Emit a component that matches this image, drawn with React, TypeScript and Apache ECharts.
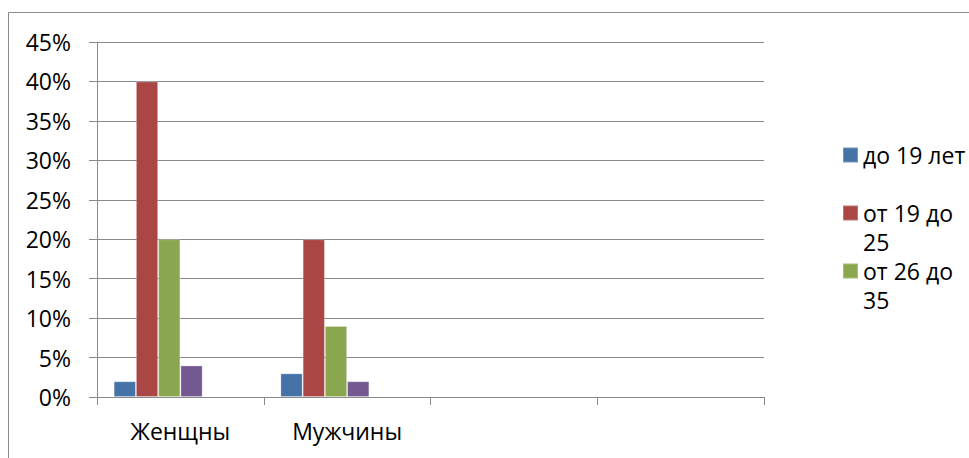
import React, { useEffect, useRef } from "react";
import * as echarts from "echarts";

const categories = ["Женщны", "Мужчины", "", ""];
const seriesNames = ["до 19 лет", "от 19 до 25", "от 26 до 35", "старше 35", "Ряд5", "Ряд6"];
const under19 = [0.02, 0.03, null, null];
const from19to25 = [0.4, 0.2, null, null];
const from26to35 = [0.2, 0.09, null, null];
const over35 = [0.04, 0.02, null, null];
const series5: (number | null)[] = [null, null, null, null];
const series6: (number | null)[] = [null, null, null, null];
const legendShown = ["до 19 лет", "от 19 до 25", "от 26 до 35"];
const legendLabels: Record<string, string> = {
  "до 19 лет": "до 19 лет",
  "от 19 до 25": "\nот 19 до\n25",
  "от 26 до 35": "\nот 26 до\n35",
};

const colors = ["#4573A8", "#AA4644", "#8AA64F", "#735990", "#4198AF", "#DB843D"];
const FONT = "'Open Sans', sans-serif";

export default function App() {
  const ref = useRef<HTMLDivElement>(null);
  useEffect(() => {
    if (!ref.current) return;
    const chart = echarts.init(ref.current, null, { renderer: "svg" });
    const values = [under19, from19to25, from26to35, over35, series5, series6];
    const legendTops = [140.5, 169.5, 227.5];
    const legends = legendShown.map((name, i) => ({
      show: true,
      orient: "vertical" as const,
      left: 842,
      top: legendTops[i],
      padding: 0,
      itemGap: 0,
      itemWidth: 15,
      itemHeight: 15,
      icon: "rect",
      selectedMode: false,
      formatter: (n: string) => legendLabels[n] ?? n,
      textStyle: { fontFamily: FONT, fontSize: 23, color: "#000", lineHeight: 29 },
      data: [name],
    }));
    chart.setOption({
      animation: false,
      color: colors,
      textStyle: { fontFamily: FONT },
      legend: legends,
      grid: { left: 97, top: 42, right: 205, bottom: 61, containLabel: false },
      xAxis: {
        type: "category",
        data: categories,
        axisLine: { show: true, lineStyle: { color: "#8a8a8a", width: 1 } },
        axisTick: { show: true, length: 8, lineStyle: { color: "#8a8a8a" } },
        axisLabel: { fontFamily: FONT, fontSize: 23, color: "#000", margin: 22, interval: 0 },
        splitLine: { show: false },
      },
      yAxis: {
        type: "value",
        min: 0,
        max: 0.45,
        interval: 0.05,
        axisLine: { show: true, lineStyle: { color: "#8a8a8a", width: 1 } },
        axisTick: { show: true, length: 8, lineStyle: { color: "#8a8a8a" } },
        axisLabel: {
          fontFamily: FONT,
          fontSize: 23,
          color: "#000",
          margin: 26,
          formatter: (v: number) => `${Math.round(v * 100)}%`,
        },
        splitLine: { show: true, lineStyle: { color: "#8a8a8a", width: 1 } },
      },
      graphic: [
        {
          type: "rect",
          silent: true,
          shape: { x: 8.5, y: 12.5, width: 1200, height: 800 },
          style: { fill: "none", stroke: "#8c8c8c", lineWidth: 1 },
          z: -10,
        },
      ],
      series: seriesNames.map((name, i) => ({
        name,
        type: "bar",
        data: values[i],
        barGap: "0%",
        barCategoryGap: "20%",
        itemStyle: { color: colors[i], borderColor: "rgba(255,255,255,0.25)", borderWidth: 1 },
      })),
    });
    return () => chart.dispose();
  }, []);
  return (
    <div style={{ position: "fixed", left: 0, top: 0, width: 969, height: 458, background: "#fff" }}>
      <div ref={ref} style={{ width: 969, height: 458 }} />
    </div>
  );
}
